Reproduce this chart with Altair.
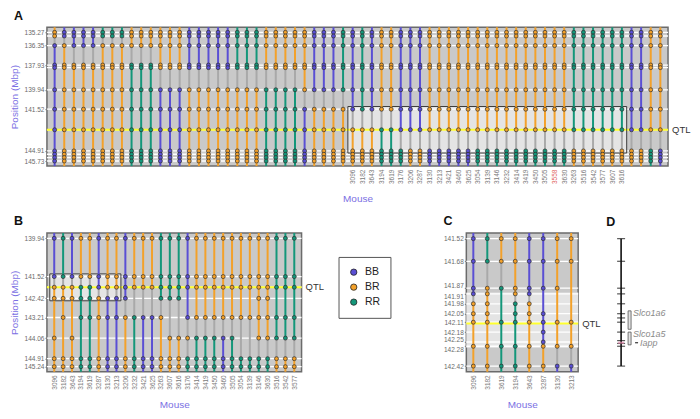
import altair as alt
import pandas as pd

# ---------------- colours / codes ----------------
GENO_NAMES = {"B": "BB", "O": "BR", "G": "RR"}
LEGEND_DOMAIN = ["BB", "BR", "RR"]
LEGEND_RANGE = ["#5a4fd4", "#f3a12a", "#14977a"]
PALETTE = dict(zip(LEGEND_DOMAIN, LEGEND_RANGE))
DISCORD = "#a9a9a9"
BG = "#c9c9c9"
BOXFILL = "#e4e4e4"
AXIS_BLUE = "#7b6fe3"
FONT = "Liberation Sans"

# ---------------- Panel A ----------------
a_markers = [135.27, 135.57, 136.35, 137.93, 138.14, 139.94, 141.52, 143.19,
             144.91, 145.18, 145.45, 145.73]
a_tick_values = [135.27, 136.35, 137.93, 139.94, 141.52, 144.91, 145.73]
a_qtl = 143.19
a_limits = [134.86, 146.14]
a_box_mice = ["3096", "3616"]
a_box_pos = [141.30, 145.08]
a_mice = ["_00", "_01", "_02", "_03", "_04", "_05", "_06", "_07", "_08", "_09",
          "_10", "_11", "_12", "_13", "_14", "_15", "_16", "_17", "_18", "_19",
          "_20", "_21", "_22", "_23", "_24", "_25", "_26", "_27", "_28", "_29",
          "_30",
          "3096", "3182", "3643", "3194", "3619", "3176", "3206", "3287", "3130",
          "3213", "3421", "3460", "3625", "3054", "3139", "3146", "3232", "3414",
          "3419", "3450", "3505", "3558", "3630", "3263", "3516", "3542", "3577",
          "3607", "3616",
          "_60", "_61", "_62", "_63"]
a_geno = ["OOBBBBBBBBBB", "BBOOOOOOOOOO", "BBBOOOOOOOOO", "BBBOOOOOOOOO",
          "BBBOOOOOOOOO", "GGOOOOOOOOOO", "GGOOOOOOOOOO", "GGOOOOOOOOOO",
          "OOOGGGGGGGGG", "OOOGGGGGGGGG", "OOOGGGGGGGGG", "OOOOOBBBBBBB",
          "OOOOOBBBBBBB", "OOOOOBBBBBBB", "BBBBBOOOOOOO", "BBBBBOOOOOOO",
          "BBBBBOOOOOOO", "BBBBBOOOOOOO", "BBBBBOOOOOOO", "GGGGGOOOOOOO",
          "GGGGGOOOOOOO", "GGGGGOOOOOOO", "OOOOOGGGGGGG", "OOOOOGGGGGGG",
          "OOOOOGGGGGGG", "OOOOOGGGGGGG", "OOOOOOBBBBBB", "BBBBBBOOOOOO",
          "BBBBBBOOOOOO", "BBBBBBOOOOOO", "GGGGGGOOOOOO",
          "BBBBBBBOOOOO", "GGGGGGGOOOOO", "BBBBBBBOOOOO", "OOOOOOOGGGGG",
          "OOOOOOOGGGGG", "BBBBBBBBGGGG", "BBBBBBBBOOOO", "BBBBBBBBOOOO",
          "OOOOOOOOBBBB", "OOOOOOOOBBBB", "OOOOOOOOBBBB", "OOOOOOOOBBBB",
          "OOOOOOOOBBBB", "OOOOOOOOGGGG", "OOOOOOOOGGGG", "OOOOOOOOGGGG",
          "OOOOOOOOGGGG", "OOOOOOOOGGGG", "OOOOOOOOGGGG", "OOOOOOOOGGGG",
          "OOOOOOOOGGGG", "OOOOOOOOGGGG", "OOOOOOOOGGGG", "GGGGGGGGOOOO",
          "GGGGGGGGOOOO", "GGGGGGGGOOOO", "GGGGGGGGOOOO", "GGGGGGGGOOOO",
          "GGGGGGGGOOOO",
          "BBBBBBBBOOOO", "BBBBBBBBOOOO", "OOOOOOOOGGGG", "OOOOOOOOBBBB"]

# ---------------- Panel B ----------------
b_markers = [139.94, 141.52, 141.96, 142.42, 143.21, 144.06, 144.91, 145.24]
b_tick_values = [139.94, 141.52, 142.42, 143.21, 144.06, 144.91, 145.24]
b_qtl = 141.96
b_limits = [139.72, 145.45]
b_box_mice = ["3096", "3213"]
b_box_pos = [141.41, 142.52]
b_mice = ["3096", "3182", "3643", "3194", "3619", "3287", "3130", "3213", "3206",
          "3232", "3421", "3625", "3263", "3607", "3616", "3176", "3414", "3419",
          "3450", "3460", "3505", "3054", "3139", "3146", "3630", "3516", "3542",
          "3577"]
b_geno = ["BBOO-OOO", "GGOOO-OO", "BBOO-OOO", "OOGGG-GG", "OOGGG-GG", "BBBOO-OO",
          "OOOBB-BB", "OOOBB-BB", "BBBBO-OO", "OOO-G-GG", "OOO-B-BB", "OOO-B-BB",
          "GGGGO-OO", "GGGG-OOO", "GGGG-OOO", "BBB-BOGG", "OOO-OGGG", "OOO-OGGG",
          "OOO-OGGG", "OOO-OBBB", "OOO-OGGG", "OOO-O-GG", "OOO-O-GG", "OOOOOOGG",
          "OOOOOOGG", "GGG-GGOO", "GGG-GGOO", "GGG-GGOO"]

# ---------------- Panel C ----------------
c_markers = [141.52, 141.68, 141.87, 141.91, 141.98, 142.05, 142.11, 142.18,
             142.25, 142.28, 142.42]
c_tick_values = c_markers
c_qtl = 142.12
c_limits = [141.48, 142.46]
c_band = [141.90, 142.29]
c_mice = ["3096", "3182", "3619", "3194", "3643", "3287", "3130", "3213"]
c_geno = ["BBBBOOO--OO", "GGOOOOO--OO", "OOG---G--GG", "OOOOGGG--GG",
          "BBBBOOO--OO", "BBB--BBBBOO", "OOO---O--OB", "OO----O--OB"]
c_label_baseline = ("datum.value == 141.87 || datum.value == 142.25 ? 'bottom' : "
                    "datum.value == 141.91 || datum.value == 142.28 ? 'top' : 'middle'")

# ---------------- Panel D ----------------
d_ticks = [141.52, 141.68, 141.87, 141.91, 141.98, 142.05, 142.08, 142.11,
           142.18, 142.24, 142.26, 142.28, 142.42]
d_genes = ["Slco1a6", "Slco1a5"]
d_gene_start = [142.03, 142.18]
d_gene_end = [142.16, 142.27]
d_iapp = 142.255
d_iapp_label = "Iapp"


def genotype_frames(mice, markers, genos, limits):
    segs, pts = [], []
    for mouse, code in zip(mice, genos):
        obs = [(m, GENO_NAMES[c]) for m, c in zip(markers, code) if c in GENO_NAMES]
        ys = [limits[0]] + [o[0] for o in obs] + [limits[1]]
        gs = [obs[0][1]] + [o[1] for o in obs] + [obs[-1][1]]
        for i in range(len(ys) - 1):
            col = PALETTE[gs[i]] if gs[i] == gs[i + 1] else DISCORD
            segs.append({"mouse": mouse, "y": ys[i], "y2": ys[i + 1], "c": col})
        for m, g in obs:
            pts.append({"mouse": mouse, "y": m, "g": g})
    return pd.DataFrame(segs), pd.DataFrame(pts)


def make_panel(letter, mice, markers, tick_values, genos, limits, qtl, width, height,
               pad, ytitle, legend, box_mice=None, box_pos=None, band=None,
               title_dx=5, label_baseline="middle"):
    step = width / (len(mice) - 1 + 2 * pad)
    half = step / 2
    x_axis = alt.Axis(title="Mouse", labelAngle=-90, labelFontSize=6.5,
                      labelColor={"expr": "datum.value == '3558' ? '#e0625c' : '#7a7a7a'"},
                      labelExpr="indexof(datum.label, '_') == 0 ? '' : datum.label",
                      ticks=False, domain=False, labelPadding=3, titlePadding=10,
                      titleColor=AXIS_BLUE, titleFontSize=10, titleFontWeight="normal",
                      labelOverlap=False)
    x_enc = alt.X("mouse:N", sort=mice,
                  scale=alt.Scale(type="point", padding=pad, domain=mice),
                  axis=x_axis)
    y_axis = alt.Axis(title=ytitle, values=tick_values, format=".2f", labelFontSize=6.5,
                      labelColor="#6a6a6a", tickSize=2, tickColor="#777", domain=False,
                      grid=False, labelPadding=1, titlePadding=5, titleColor=AXIS_BLUE,
                      titleFontSize=10, titleFontWeight="normal", labelOverlap=False,
                      labelBaseline={"expr": label_baseline} if label_baseline != "middle" else "middle")
    y_scale = alt.Scale(domain=limits, reverse=True, nice=False, zero=False)

    def Y(field):
        return alt.Y(f"{field}:Q", scale=y_scale, axis=y_axis)

    seg_df, pt_df = genotype_frames(mice, markers, genos, limits)
    layers = []
    if box_mice is not None:
        box_df = pd.DataFrame({"mouse": [box_mice[0]], "mouse2": [box_mice[1]],
                               "y": [box_pos[0]], "y2": [box_pos[1]]})
        layers.append(alt.Chart(box_df).mark_rect(fill=BOXFILL, xOffset=-half,
                                                  x2Offset=half).encode(
            x=x_enc, x2=alt.X2("mouse2"), y=Y("y"), y2=alt.Y2("y2")))
    if band is not None:
        band_df = pd.DataFrame({"y": [band[0]], "y2": [band[1]]})
        layers.append(alt.Chart(band_df).mark_rect(fill=BOXFILL).encode(
            y=Y("y"), y2=alt.Y2("y2")))
    grid_df = pd.DataFrame({"y": markers})
    layers.append(alt.Chart(grid_df).mark_rule(color="white", strokeWidth=1.3).encode(
        y=Y("y")))
    qtl_df = pd.DataFrame({"y": [qtl], "label": ["QTL"]})
    layers.append(alt.Chart(qtl_df).mark_rule(color="#ffff2e", strokeWidth=2).encode(
        y=Y("y")))
    if box_mice is not None:
        layers.append(alt.Chart(box_df).mark_rect(fillOpacity=0, stroke="#3c3c3c",
                                                  strokeWidth=1, xOffset=-half,
                                                  x2Offset=half).encode(
            x=x_enc, x2=alt.X2("mouse2"), y=Y("y"), y2=alt.Y2("y2")))
    layers.append(alt.Chart(seg_df).mark_rule(strokeWidth=2).encode(
        x=x_enc, y=Y("y"), y2=alt.Y2("y2"), stroke=alt.Stroke("c:N", scale=None)))
    layers.append(alt.Chart(pt_df).mark_circle(size=16, stroke="#2b2b2b",
                                               strokeWidth=0.7, opacity=1).encode(
        x=x_enc, y=Y("y"),
        color=alt.Color("g:N", scale=alt.Scale(domain=LEGEND_DOMAIN, range=LEGEND_RANGE),
                        legend=legend)))
    layers.append(alt.Chart(qtl_df).mark_text(align="left", baseline="middle",
                                              fontSize=9.5, color="#333", dx=4).encode(
        y=Y("y"), x=alt.value(width), text="label:N"))
    return alt.layer(*layers).properties(
        width=width, height=height,
        title=alt.TitleParams(letter, anchor="start", frame="bounds", fontSize=12.5,
                              fontWeight="bold", color="#111", dx=title_dx, offset=4),
        view=alt.ViewBackground(fill=BG, stroke="#6b6b6b", strokeWidth=1.5))


legend_b = alt.Legend(title=None, orient="none", legendX=292, legendY=24,
                      direction="vertical", strokeColor="#555", fillColor="white",
                      padding=10, labelFontSize=10.5, labelColor="#222",
                      symbolType="circle", symbolSize=40, symbolStrokeColor="#222",
                      symbolStrokeWidth=0.8, rowPadding=4, labelOffset=6,
                      cornerRadius=0)

chart_a = make_panel("A", a_mice, a_markers, a_tick_values, a_geno, a_limits, a_qtl,
                     622, 139, 0.8, "Position (Mbp)", None, a_box_mice, a_box_pos)
chart_b = make_panel("B", b_mice, b_markers, b_tick_values, b_geno, b_limits, b_qtl,
                     255, 139, 0.82, "Position (Mbp)", legend_b, b_box_mice, b_box_pos)
chart_c = make_panel("C", c_mice, c_markers, c_tick_values, c_geno, c_limits, c_qtl,
                     112, 139, 0.5, "", None, band=c_band, title_dx=0,
                     label_baseline=c_label_baseline)

# ---------------- Panel D (map) ----------------
d_scale = alt.Scale(domain=c_limits, reverse=True, nice=False, zero=False)
chrom_df = pd.DataFrame({"y": [d_ticks[0]], "y2": [d_ticks[-1]]})
tick_df = pd.DataFrame({"y": d_ticks})
gene_df = pd.DataFrame({"gene": d_genes, "y": d_gene_start, "y2": d_gene_end})
iapp_df = pd.DataFrame({"y": [d_iapp], "gene": [d_iapp_label]})

d_chrom = alt.Chart(chrom_df).mark_rule(color="#111", strokeWidth=1.6).encode(
    x=alt.value(15), y=alt.Y("y:Q", scale=d_scale, axis=None), y2=alt.Y2("y2"))
d_tk = alt.Chart(tick_df).mark_tick(color="#111", size=8, thickness=1.2).encode(
    x=alt.value(15), y=alt.Y("y:Q", scale=d_scale, axis=None))
d_pink = alt.Chart(iapp_df).mark_tick(color="#ee8fb4", size=6, thickness=2).encode(
    x=alt.value(15), y=alt.Y("y:Q", scale=d_scale, axis=None))
d_rect = alt.Chart(gene_df).mark_rect(fill="#e2e2e2", stroke="#555", strokeWidth=0.8).encode(
    x=alt.value(22), x2=alt.value(25), y=alt.Y("y:Q", scale=d_scale, axis=None),
    y2=alt.Y2("y2"))
d_lab = alt.Chart(gene_df).mark_text(align="left", baseline="top", fontStyle="italic",
                                     fontSize=9, color="#8a8a8a", dy=-2).encode(
    x=alt.value(27), y=alt.Y("y:Q", scale=d_scale, axis=None), text="gene:N")
d_dash = alt.Chart(iapp_df).mark_rule(color="#333", strokeWidth=1.2).encode(
    x=alt.value(29), x2=alt.value(32), y=alt.Y("y:Q", scale=d_scale, axis=None))
d_ilab = alt.Chart(iapp_df).mark_text(align="left", baseline="middle", fontStyle="italic",
                                      fontSize=9, color="#8a8a8a").encode(
    x=alt.value(34), y=alt.Y("y:Q", scale=d_scale, axis=None), text="gene:N")
chart_d = alt.layer(d_chrom, d_tk, d_pink, d_rect, d_lab, d_dash, d_ilab).properties(
    width=65, height=139,
    title=alt.TitleParams("D", anchor="start", frame="group", fontSize=12.5,
                          fontWeight="bold", color="#111", offset=4),
    view=alt.ViewBackground(fill="white", strokeWidth=0))

cd = alt.hconcat(chart_c, chart_d, spacing=4).resolve_scale(color="independent").resolve_legend(color="independent")
bottom = alt.hconcat(chart_b, cd, spacing=50).resolve_scale(color="independent").resolve_legend(color="independent")
chart = alt.vconcat(chart_a, bottom, spacing=9).resolve_scale(
    color="independent").resolve_legend(color="independent").properties(
    padding={"left": 0, "top": 0, "right": 0, "bottom": 0}).configure(
    font=FONT).configure_axis(labelFont=FONT, titleFont=FONT).configure_title(font=FONT)

chart.save("out.html", embed_options={"renderer": "svg", "actions": False})
